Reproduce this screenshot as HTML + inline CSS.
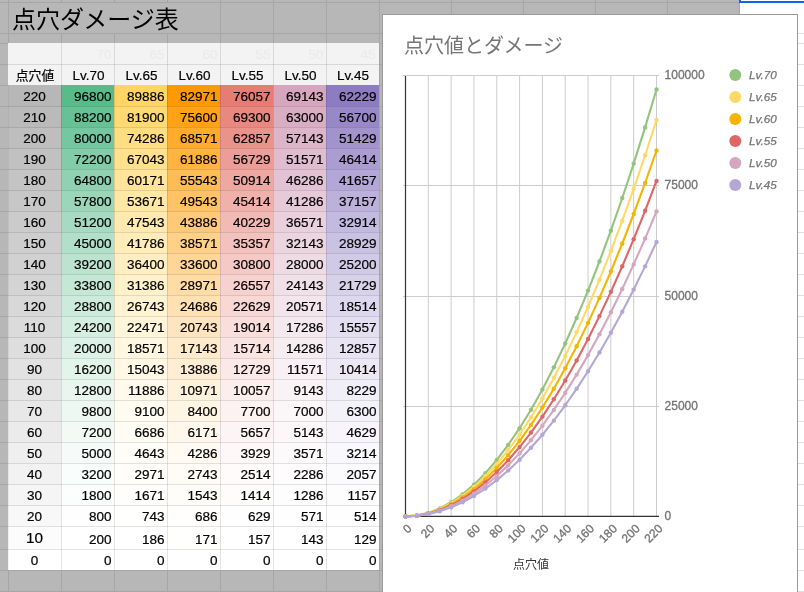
<!DOCTYPE html><html><head><meta charset="utf-8"><style>
*{margin:0;padding:0;box-sizing:border-box}
html,body{width:804px;height:592px;overflow:hidden;background:#fff}
body{will-change:transform}
body{position:relative;font-family:"Liberation Sans","Noto Sans CJK JP",Arial,sans-serif;}
.a{position:absolute}
.c{position:absolute;font-size:13.5px;color:#000;line-height:1;white-space:nowrap;-webkit-text-stroke:0.2px currentColor}
.hl{position:absolute;height:1px}
.vl{position:absolute;width:1px}
.c span{position:absolute;left:0;right:0;line-height:14px}
.n span{text-align:right;right:2.5px}
.m span{text-align:center}
.n2 span{right:3.5px}

</style></head><body>
<div class="a" style="left:0;top:0;width:739px;height:592px;background:#b7b7b7"></div>
<div class="hl" style="left:0;top:2px;width:739px;background:#a6a6a6"></div>
<div class="hl" style="left:740px;top:2px;width:64px;background:#e0e0e0"></div>
<div class="hl" style="left:0;top:33px;width:739px;background:#a6a6a6"></div>
<div class="hl" style="left:740px;top:33px;width:64px;background:#e0e0e0"></div>
<div class="hl" style="left:0;top:43px;width:739px;background:#a6a6a6"></div>
<div class="hl" style="left:740px;top:43px;width:64px;background:#e0e0e0"></div>
<div class="hl" style="left:0;top:64px;width:739px;background:#a6a6a6"></div>
<div class="hl" style="left:740px;top:64px;width:64px;background:#e0e0e0"></div>
<div class="hl" style="left:0;top:85px;width:739px;background:#a6a6a6"></div>
<div class="hl" style="left:740px;top:85px;width:64px;background:#e0e0e0"></div>
<div class="hl" style="left:0;top:106px;width:739px;background:#a6a6a6"></div>
<div class="hl" style="left:740px;top:106px;width:64px;background:#e0e0e0"></div>
<div class="hl" style="left:0;top:127px;width:739px;background:#a6a6a6"></div>
<div class="hl" style="left:740px;top:127px;width:64px;background:#e0e0e0"></div>
<div class="hl" style="left:0;top:148px;width:739px;background:#a6a6a6"></div>
<div class="hl" style="left:740px;top:148px;width:64px;background:#e0e0e0"></div>
<div class="hl" style="left:0;top:169px;width:739px;background:#a6a6a6"></div>
<div class="hl" style="left:740px;top:169px;width:64px;background:#e0e0e0"></div>
<div class="hl" style="left:0;top:190px;width:739px;background:#a6a6a6"></div>
<div class="hl" style="left:740px;top:190px;width:64px;background:#e0e0e0"></div>
<div class="hl" style="left:0;top:211px;width:739px;background:#a6a6a6"></div>
<div class="hl" style="left:740px;top:211px;width:64px;background:#e0e0e0"></div>
<div class="hl" style="left:0;top:232px;width:739px;background:#a6a6a6"></div>
<div class="hl" style="left:740px;top:232px;width:64px;background:#e0e0e0"></div>
<div class="hl" style="left:0;top:253px;width:739px;background:#a6a6a6"></div>
<div class="hl" style="left:740px;top:253px;width:64px;background:#e0e0e0"></div>
<div class="hl" style="left:0;top:274px;width:739px;background:#a6a6a6"></div>
<div class="hl" style="left:740px;top:274px;width:64px;background:#e0e0e0"></div>
<div class="hl" style="left:0;top:295px;width:739px;background:#a6a6a6"></div>
<div class="hl" style="left:740px;top:295px;width:64px;background:#e0e0e0"></div>
<div class="hl" style="left:0;top:316px;width:739px;background:#a6a6a6"></div>
<div class="hl" style="left:740px;top:316px;width:64px;background:#e0e0e0"></div>
<div class="hl" style="left:0;top:337px;width:739px;background:#a6a6a6"></div>
<div class="hl" style="left:740px;top:337px;width:64px;background:#e0e0e0"></div>
<div class="hl" style="left:0;top:358px;width:739px;background:#a6a6a6"></div>
<div class="hl" style="left:740px;top:358px;width:64px;background:#e0e0e0"></div>
<div class="hl" style="left:0;top:379px;width:739px;background:#a6a6a6"></div>
<div class="hl" style="left:740px;top:379px;width:64px;background:#e0e0e0"></div>
<div class="hl" style="left:0;top:400px;width:739px;background:#a6a6a6"></div>
<div class="hl" style="left:740px;top:400px;width:64px;background:#e0e0e0"></div>
<div class="hl" style="left:0;top:421px;width:739px;background:#a6a6a6"></div>
<div class="hl" style="left:740px;top:421px;width:64px;background:#e0e0e0"></div>
<div class="hl" style="left:0;top:442px;width:739px;background:#a6a6a6"></div>
<div class="hl" style="left:740px;top:442px;width:64px;background:#e0e0e0"></div>
<div class="hl" style="left:0;top:463px;width:739px;background:#a6a6a6"></div>
<div class="hl" style="left:740px;top:463px;width:64px;background:#e0e0e0"></div>
<div class="hl" style="left:0;top:484px;width:739px;background:#a6a6a6"></div>
<div class="hl" style="left:740px;top:484px;width:64px;background:#e0e0e0"></div>
<div class="hl" style="left:0;top:505px;width:739px;background:#a6a6a6"></div>
<div class="hl" style="left:740px;top:505px;width:64px;background:#e0e0e0"></div>
<div class="hl" style="left:0;top:526px;width:739px;background:#a6a6a6"></div>
<div class="hl" style="left:740px;top:526px;width:64px;background:#e0e0e0"></div>
<div class="hl" style="left:0;top:549px;width:739px;background:#a6a6a6"></div>
<div class="hl" style="left:740px;top:549px;width:64px;background:#e0e0e0"></div>
<div class="hl" style="left:0;top:570px;width:739px;background:#a6a6a6"></div>
<div class="hl" style="left:740px;top:570px;width:64px;background:#e0e0e0"></div>
<div class="hl" style="left:0;top:591px;width:739px;background:#a6a6a6"></div>
<div class="hl" style="left:740px;top:591px;width:64px;background:#e0e0e0"></div>
<div class="vl" style="left:8px;top:0;height:592px;background:#a6a6a6"></div>
<div class="vl" style="left:61px;top:0;height:592px;background:#a6a6a6"></div>
<div class="vl" style="left:114px;top:0;height:592px;background:#a6a6a6"></div>
<div class="vl" style="left:167px;top:0;height:592px;background:#a6a6a6"></div>
<div class="vl" style="left:220px;top:0;height:592px;background:#a6a6a6"></div>
<div class="vl" style="left:273px;top:0;height:592px;background:#a6a6a6"></div>
<div class="vl" style="left:326px;top:0;height:592px;background:#a6a6a6"></div>
<div class="vl" style="left:379px;top:0;height:592px;background:#a6a6a6"></div>
<div class="vl" style="left:451px;top:0;height:592px;background:#a6a6a6"></div>
<div class="vl" style="left:523px;top:0;height:592px;background:#a6a6a6"></div>
<div class="vl" style="left:595px;top:0;height:592px;background:#a6a6a6"></div>
<div class="vl" style="left:667px;top:0;height:592px;background:#a6a6a6"></div>
<div class="vl" style="left:739px;top:0;height:592px;background:#a6a6a6"></div>
<div class="a" style="left:9px;top:3px;width:170px;height:30px;background:#b7b7b7"></div>
<div class="a" style="left:12px;top:5px;height:30px;font-size:24px;line-height:30px;font-family:'Liberation Sans','Noto Sans CJK JP',sans-serif;color:#000;white-space:nowrap">点穴ダメージ表</div>
<div class="c n n2" style="left:8px;top:43px;width:54px;height:21px;background:#f3f3f3;color:#ebebeb;"><span style="bottom:2.0px;"></span></div>
<div class="c m" style="left:8px;top:64px;width:54px;height:21px;background:#f3f3f3;"><span style="bottom:2.4px;font-size:12.8px;">点穴値</span></div>
<div class="c n n2" style="left:62px;top:43px;width:53px;height:21px;background:#f3f3f3;color:#ebebeb;"><span style="bottom:2.0px;">70</span></div>
<div class="c m" style="left:62px;top:64px;width:53px;height:21px;background:#f3f3f3;"><span style="bottom:2.0px;">Lv.70</span></div>
<div class="c n n2" style="left:115px;top:43px;width:53px;height:21px;background:#f3f3f3;color:#ebebeb;"><span style="bottom:2.0px;">65</span></div>
<div class="c m" style="left:115px;top:64px;width:53px;height:21px;background:#f3f3f3;"><span style="bottom:2.0px;">Lv.65</span></div>
<div class="c n n2" style="left:168px;top:43px;width:53px;height:21px;background:#f3f3f3;color:#ebebeb;"><span style="bottom:2.0px;">60</span></div>
<div class="c m" style="left:168px;top:64px;width:53px;height:21px;background:#f3f3f3;"><span style="bottom:2.0px;">Lv.60</span></div>
<div class="c n n2" style="left:221px;top:43px;width:53px;height:21px;background:#f3f3f3;color:#ebebeb;"><span style="bottom:2.0px;">55</span></div>
<div class="c m" style="left:221px;top:64px;width:53px;height:21px;background:#f3f3f3;"><span style="bottom:2.0px;">Lv.55</span></div>
<div class="c n n2" style="left:274px;top:43px;width:53px;height:21px;background:#f3f3f3;color:#ebebeb;"><span style="bottom:2.0px;">50</span></div>
<div class="c m" style="left:274px;top:64px;width:53px;height:21px;background:#f3f3f3;"><span style="bottom:2.0px;">Lv.50</span></div>
<div class="c n n2" style="left:327px;top:43px;width:52px;height:21px;background:#f3f3f3;color:#ebebeb;"><span style="bottom:2.0px;">45</span></div>
<div class="c m" style="left:327px;top:64px;width:52px;height:21px;background:#f3f3f3;"><span style="bottom:2.0px;">Lv.45</span></div>
<div class="c m" style="left:8px;top:85px;width:53px;height:21px;background:#b7b7b7;"><span style="bottom:2.0px;">220</span></div>
<div class="c n" style="left:61px;top:85px;width:53px;height:21px;background:#57bb8a;"><span style="bottom:2.0px;">96800</span></div>
<div class="c n" style="left:114px;top:85px;width:53px;height:21px;background:#ffd666;"><span style="bottom:2.0px;">89886</span></div>
<div class="c n" style="left:167px;top:85px;width:53px;height:21px;background:#ff9900;"><span style="bottom:2.0px;">82971</span></div>
<div class="c n" style="left:220px;top:85px;width:53px;height:21px;background:#e67c73;"><span style="bottom:2.0px;">76057</span></div>
<div class="c n" style="left:273px;top:85px;width:53px;height:21px;background:#d5a6bd;"><span style="bottom:2.0px;">69143</span></div>
<div class="c n" style="left:326px;top:85px;width:53px;height:21px;background:#8e7cc3;"><span style="bottom:2.0px;">62229</span></div>
<div class="c m" style="left:8px;top:106px;width:53px;height:21px;background:#bababa;"><span style="bottom:2.0px;">210</span></div>
<div class="c n" style="left:61px;top:106px;width:53px;height:21px;background:#66c194;"><span style="bottom:2.0px;">88200</span></div>
<div class="c n" style="left:114px;top:106px;width:53px;height:21px;background:#ffda74;"><span style="bottom:2.0px;">81900</span></div>
<div class="c n" style="left:167px;top:106px;width:53px;height:21px;background:#ffa217;"><span style="bottom:2.0px;">75600</span></div>
<div class="c n" style="left:220px;top:106px;width:53px;height:21px;background:#e8887f;"><span style="bottom:2.0px;">69300</span></div>
<div class="c n" style="left:273px;top:106px;width:53px;height:21px;background:#d9aec3;"><span style="bottom:2.0px;">63000</span></div>
<div class="c n" style="left:326px;top:106px;width:53px;height:21px;background:#9888c8;"><span style="bottom:2.0px;">56700</span></div>
<div class="c m" style="left:8px;top:127px;width:53px;height:21px;background:#bebebe;"><span style="bottom:2.0px;">200</span></div>
<div class="c n" style="left:61px;top:127px;width:53px;height:21px;background:#74c79e;"><span style="bottom:2.0px;">80000</span></div>
<div class="c n" style="left:114px;top:127px;width:53px;height:21px;background:#ffdd81;"><span style="bottom:2.0px;">74286</span></div>
<div class="c n" style="left:167px;top:127px;width:53px;height:21px;background:#ffab2c;"><span style="bottom:2.0px;">68571</span></div>
<div class="c n" style="left:220px;top:127px;width:53px;height:21px;background:#ea938b;"><span style="bottom:2.0px;">62857</span></div>
<div class="c n" style="left:273px;top:127px;width:53px;height:21px;background:#dcb5c8;"><span style="bottom:2.0px;">57143</span></div>
<div class="c n" style="left:326px;top:127px;width:53px;height:21px;background:#a293cd;"><span style="bottom:2.0px;">51429</span></div>
<div class="c m" style="left:8px;top:148px;width:53px;height:21px;background:#c1c1c1;"><span style="bottom:2.0px;">190</span></div>
<div class="c n" style="left:61px;top:148px;width:53px;height:21px;background:#82cca8;"><span style="bottom:2.0px;">72200</span></div>
<div class="c n" style="left:114px;top:148px;width:53px;height:21px;background:#ffe08d;"><span style="bottom:2.0px;">67043</span></div>
<div class="c n" style="left:167px;top:148px;width:53px;height:21px;background:#ffb341;"><span style="bottom:2.0px;">61886</span></div>
<div class="c n" style="left:220px;top:148px;width:53px;height:21px;background:#ec9d97;"><span style="bottom:2.0px;">56729</span></div>
<div class="c n" style="left:273px;top:148px;width:53px;height:21px;background:#e0bdce;"><span style="bottom:2.0px;">51571</span></div>
<div class="c n" style="left:326px;top:148px;width:53px;height:21px;background:#ab9dd2;"><span style="bottom:2.0px;">46414</span></div>
<div class="c m" style="left:8px;top:169px;width:53px;height:21px;background:#c4c4c4;"><span style="bottom:2.0px;">180</span></div>
<div class="c n" style="left:61px;top:169px;width:53px;height:21px;background:#8fd1b1;"><span style="bottom:2.0px;">64800</span></div>
<div class="c n" style="left:114px;top:169px;width:53px;height:21px;background:#ffe499;"><span style="bottom:2.0px;">60171</span></div>
<div class="c n" style="left:167px;top:169px;width:53px;height:21px;background:#ffbb54;"><span style="bottom:2.0px;">55543</span></div>
<div class="c n" style="left:220px;top:169px;width:53px;height:21px;background:#eea7a1;"><span style="bottom:2.0px;">50914</span></div>
<div class="c n" style="left:273px;top:169px;width:53px;height:21px;background:#e3c3d3;"><span style="bottom:2.0px;">46286</span></div>
<div class="c n" style="left:326px;top:169px;width:53px;height:21px;background:#b3a7d7;"><span style="bottom:2.0px;">41657</span></div>
<div class="c m" style="left:8px;top:190px;width:53px;height:21px;background:#c7c7c7;"><span style="bottom:2.0px;">170</span></div>
<div class="c n" style="left:61px;top:190px;width:53px;height:21px;background:#9bd6b9;"><span style="bottom:2.0px;">57800</span></div>
<div class="c n" style="left:114px;top:190px;width:53px;height:21px;background:#ffe7a4;"><span style="bottom:2.0px;">53671</span></div>
<div class="c n" style="left:167px;top:190px;width:53px;height:21px;background:#ffc267;"><span style="bottom:2.0px;">49543</span></div>
<div class="c n" style="left:220px;top:190px;width:53px;height:21px;background:#f0b1ab;"><span style="bottom:2.0px;">45414</span></div>
<div class="c n" style="left:273px;top:190px;width:53px;height:21px;background:#e6cad8;"><span style="bottom:2.0px;">41286</span></div>
<div class="c n" style="left:326px;top:190px;width:53px;height:21px;background:#bcb1db;"><span style="bottom:2.0px;">37157</span></div>
<div class="c m" style="left:8px;top:211px;width:53px;height:21px;background:#cbcbcb;"><span style="bottom:2.0px;">160</span></div>
<div class="c n" style="left:61px;top:211px;width:53px;height:21px;background:#a6dbc1;"><span style="bottom:2.0px;">51200</span></div>
<div class="c n" style="left:114px;top:211px;width:53px;height:21px;background:#ffe9ae;"><span style="bottom:2.0px;">47543</span></div>
<div class="c n" style="left:167px;top:211px;width:53px;height:21px;background:#ffc978;"><span style="bottom:2.0px;">43886</span></div>
<div class="c n" style="left:220px;top:211px;width:53px;height:21px;background:#f2bab5;"><span style="bottom:2.0px;">40229</span></div>
<div class="c n" style="left:273px;top:211px;width:53px;height:21px;background:#e9d0dc;"><span style="bottom:2.0px;">36571</span></div>
<div class="c n" style="left:326px;top:211px;width:53px;height:21px;background:#c3badf;"><span style="bottom:2.0px;">32914</span></div>
<div class="c m" style="left:8px;top:232px;width:53px;height:21px;background:#cecece;"><span style="bottom:2.0px;">150</span></div>
<div class="c n" style="left:61px;top:232px;width:53px;height:21px;background:#b1dfc9;"><span style="bottom:2.0px;">45000</span></div>
<div class="c n" style="left:114px;top:232px;width:53px;height:21px;background:#ffecb8;"><span style="bottom:2.0px;">41786</span></div>
<div class="c n" style="left:167px;top:232px;width:53px;height:21px;background:#ffd088;"><span style="bottom:2.0px;">38571</span></div>
<div class="c n" style="left:220px;top:232px;width:53px;height:21px;background:#f3c2be;"><span style="bottom:2.0px;">35357</span></div>
<div class="c n" style="left:273px;top:232px;width:53px;height:21px;background:#ebd6e0;"><span style="bottom:2.0px;">32143</span></div>
<div class="c n" style="left:326px;top:232px;width:53px;height:21px;background:#cac2e3;"><span style="bottom:2.0px;">28929</span></div>
<div class="c m" style="left:8px;top:253px;width:53px;height:21px;background:#d1d1d1;"><span style="bottom:2.0px;">140</span></div>
<div class="c n" style="left:61px;top:253px;width:53px;height:21px;background:#bbe3d0;"><span style="bottom:2.0px;">39200</span></div>
<div class="c n" style="left:114px;top:253px;width:53px;height:21px;background:#ffeec1;"><span style="bottom:2.0px;">36400</span></div>
<div class="c n" style="left:167px;top:253px;width:53px;height:21px;background:#ffd698;"><span style="bottom:2.0px;">33600</span></div>
<div class="c n" style="left:220px;top:253px;width:53px;height:21px;background:#f5cac6;"><span style="bottom:2.0px;">30800</span></div>
<div class="c n" style="left:273px;top:253px;width:53px;height:21px;background:#eedbe4;"><span style="bottom:2.0px;">28000</span></div>
<div class="c n" style="left:326px;top:253px;width:53px;height:21px;background:#d1cae7;"><span style="bottom:2.0px;">25200</span></div>
<div class="c m" style="left:8px;top:274px;width:53px;height:21px;background:#d4d4d4;"><span style="bottom:2.0px;">130</span></div>
<div class="c n" style="left:61px;top:274px;width:53px;height:21px;background:#c4e7d6;"><span style="bottom:2.0px;">33800</span></div>
<div class="c n" style="left:114px;top:274px;width:53px;height:21px;background:#fff1ca;"><span style="bottom:2.0px;">31386</span></div>
<div class="c n" style="left:167px;top:274px;width:53px;height:21px;background:#ffdba6;"><span style="bottom:2.0px;">28971</span></div>
<div class="c n" style="left:220px;top:274px;width:53px;height:21px;background:#f6d1ce;"><span style="bottom:2.0px;">26557</span></div>
<div class="c n" style="left:273px;top:274px;width:53px;height:21px;background:#f0e0e8;"><span style="bottom:2.0px;">24143</span></div>
<div class="c n" style="left:326px;top:274px;width:53px;height:21px;background:#d8d1ea;"><span style="bottom:2.0px;">21729</span></div>
<div class="c m" style="left:8px;top:295px;width:53px;height:21px;background:#d8d8d8;"><span style="bottom:2.0px;">120</span></div>
<div class="c n" style="left:61px;top:295px;width:53px;height:21px;background:#cdebdc;"><span style="bottom:2.0px;">28800</span></div>
<div class="c n" style="left:114px;top:295px;width:53px;height:21px;background:#fff3d1;"><span style="bottom:2.0px;">26743</span></div>
<div class="c n" style="left:167px;top:295px;width:53px;height:21px;background:#ffe1b3;"><span style="bottom:2.0px;">24686</span></div>
<div class="c n" style="left:220px;top:295px;width:53px;height:21px;background:#f8d8d5;"><span style="bottom:2.0px;">22629</span></div>
<div class="c n" style="left:273px;top:295px;width:53px;height:21px;background:#f3e5eb;"><span style="bottom:2.0px;">20571</span></div>
<div class="c n" style="left:326px;top:295px;width:53px;height:21px;background:#ddd8ed;"><span style="bottom:2.0px;">18514</span></div>
<div class="c m" style="left:8px;top:316px;width:53px;height:21px;background:#dbdbdb;"><span style="bottom:2.0px;">110</span></div>
<div class="c n" style="left:61px;top:316px;width:53px;height:21px;background:#d5eee2;"><span style="bottom:2.0px;">24200</span></div>
<div class="c n" style="left:114px;top:316px;width:53px;height:21px;background:#fff5d9;"><span style="bottom:2.0px;">22471</span></div>
<div class="c n" style="left:167px;top:316px;width:53px;height:21px;background:#ffe5bf;"><span style="bottom:2.0px;">20743</span></div>
<div class="c n" style="left:220px;top:316px;width:53px;height:21px;background:#f9dedc;"><span style="bottom:2.0px;">19014</span></div>
<div class="c n" style="left:273px;top:316px;width:53px;height:21px;background:#f4e9ee;"><span style="bottom:2.0px;">17286</span></div>
<div class="c n" style="left:326px;top:316px;width:53px;height:21px;background:#e3def0;"><span style="bottom:2.0px;">15557</span></div>
<div class="c m" style="left:8px;top:337px;width:53px;height:21px;background:#dedede;"><span style="bottom:2.0px;">100</span></div>
<div class="c n" style="left:61px;top:337px;width:53px;height:21px;background:#dcf1e7;"><span style="bottom:2.0px;">20000</span></div>
<div class="c n" style="left:114px;top:337px;width:53px;height:21px;background:#fff7df;"><span style="bottom:2.0px;">18571</span></div>
<div class="c n" style="left:167px;top:337px;width:53px;height:21px;background:#ffeaca;"><span style="bottom:2.0px;">17143</span></div>
<div class="c n" style="left:220px;top:337px;width:53px;height:21px;background:#fae4e2;"><span style="bottom:2.0px;">15714</span></div>
<div class="c n" style="left:273px;top:337px;width:53px;height:21px;background:#f6edf1;"><span style="bottom:2.0px;">14286</span></div>
<div class="c n" style="left:326px;top:337px;width:53px;height:21px;background:#e8e4f3;"><span style="bottom:2.0px;">12857</span></div>
<div class="c m" style="left:8px;top:358px;width:53px;height:21px;background:#e2e2e2;"><span style="bottom:2.0px;">90</span></div>
<div class="c n" style="left:61px;top:358px;width:53px;height:21px;background:#e3f4eb;"><span style="bottom:2.0px;">16200</span></div>
<div class="c n" style="left:114px;top:358px;width:53px;height:21px;background:#fff8e5;"><span style="bottom:2.0px;">15043</span></div>
<div class="c n" style="left:167px;top:358px;width:53px;height:21px;background:#ffeed4;"><span style="bottom:2.0px;">13886</span></div>
<div class="c n" style="left:220px;top:358px;width:53px;height:21px;background:#fbe9e8;"><span style="bottom:2.0px;">12729</span></div>
<div class="c n" style="left:273px;top:358px;width:53px;height:21px;background:#f8f0f4;"><span style="bottom:2.0px;">11571</span></div>
<div class="c n" style="left:326px;top:358px;width:53px;height:21px;background:#ece9f5;"><span style="bottom:2.0px;">10414</span></div>
<div class="c m" style="left:8px;top:379px;width:53px;height:21px;background:#e5e5e5;"><span style="bottom:2.0px;">80</span></div>
<div class="c n" style="left:61px;top:379px;width:53px;height:21px;background:#e9f6f0;"><span style="bottom:2.0px;">12800</span></div>
<div class="c n" style="left:114px;top:379px;width:53px;height:21px;background:#fffaeb;"><span style="bottom:2.0px;">11886</span></div>
<div class="c n" style="left:167px;top:379px;width:53px;height:21px;background:#fff2dd;"><span style="bottom:2.0px;">10971</span></div>
<div class="c n" style="left:220px;top:379px;width:53px;height:21px;background:#fceeec;"><span style="bottom:2.0px;">10057</span></div>
<div class="c n" style="left:273px;top:379px;width:53px;height:21px;background:#f9f3f6;"><span style="bottom:2.0px;">9143</span></div>
<div class="c n" style="left:326px;top:379px;width:53px;height:21px;background:#f0eef7;"><span style="bottom:2.0px;">8229</span></div>
<div class="c m" style="left:8px;top:400px;width:53px;height:21px;background:#e8e8e8;"><span style="bottom:2.0px;">70</span></div>
<div class="c n" style="left:61px;top:400px;width:53px;height:21px;background:#eef8f3;"><span style="bottom:2.0px;">9800</span></div>
<div class="c n" style="left:114px;top:400px;width:53px;height:21px;background:#fffbf0;"><span style="bottom:2.0px;">9100</span></div>
<div class="c n" style="left:167px;top:400px;width:53px;height:21px;background:#fff5e5;"><span style="bottom:2.0px;">8400</span></div>
<div class="c n" style="left:220px;top:400px;width:53px;height:21px;background:#fcf2f1;"><span style="bottom:2.0px;">7700</span></div>
<div class="c n" style="left:273px;top:400px;width:53px;height:21px;background:#fbf6f8;"><span style="bottom:2.0px;">7000</span></div>
<div class="c n" style="left:326px;top:400px;width:53px;height:21px;background:#f4f2f9;"><span style="bottom:2.0px;">6300</span></div>
<div class="c m" style="left:8px;top:421px;width:53px;height:21px;background:#ebebeb;"><span style="bottom:2.0px;">60</span></div>
<div class="c n" style="left:61px;top:421px;width:53px;height:21px;background:#f3faf6;"><span style="bottom:2.0px;">7200</span></div>
<div class="c n" style="left:114px;top:421px;width:53px;height:21px;background:#fffcf4;"><span style="bottom:2.0px;">6686</span></div>
<div class="c n" style="left:167px;top:421px;width:53px;height:21px;background:#fff7ec;"><span style="bottom:2.0px;">6171</span></div>
<div class="c n" style="left:220px;top:421px;width:53px;height:21px;background:#fdf5f5;"><span style="bottom:2.0px;">5657</span></div>
<div class="c n" style="left:273px;top:421px;width:53px;height:21px;background:#fcf8fa;"><span style="bottom:2.0px;">5143</span></div>
<div class="c n" style="left:326px;top:421px;width:53px;height:21px;background:#f7f5fb;"><span style="bottom:2.0px;">4629</span></div>
<div class="c m" style="left:8px;top:442px;width:53px;height:21px;background:#efefef;"><span style="bottom:2.0px;">50</span></div>
<div class="c n" style="left:61px;top:442px;width:53px;height:21px;background:#f6fbf9;"><span style="bottom:2.0px;">5000</span></div>
<div class="c n" style="left:114px;top:442px;width:53px;height:21px;background:#fffdf7;"><span style="bottom:2.0px;">4643</span></div>
<div class="c n" style="left:167px;top:442px;width:53px;height:21px;background:#fffaf2;"><span style="bottom:2.0px;">4286</span></div>
<div class="c n" style="left:220px;top:442px;width:53px;height:21px;background:#fef8f8;"><span style="bottom:2.0px;">3929</span></div>
<div class="c n" style="left:273px;top:442px;width:53px;height:21px;background:#fdfafc;"><span style="bottom:2.0px;">3571</span></div>
<div class="c n" style="left:326px;top:442px;width:53px;height:21px;background:#f9f8fc;"><span style="bottom:2.0px;">3214</span></div>
<div class="c m" style="left:8px;top:463px;width:53px;height:21px;background:#f2f2f2;"><span style="bottom:2.0px;">40</span></div>
<div class="c n" style="left:61px;top:463px;width:53px;height:21px;background:#f9fdfb;"><span style="bottom:2.0px;">3200</span></div>
<div class="c n" style="left:114px;top:463px;width:53px;height:21px;background:#fffefa;"><span style="bottom:2.0px;">2971</span></div>
<div class="c n" style="left:167px;top:463px;width:53px;height:21px;background:#fffcf7;"><span style="bottom:2.0px;">2743</span></div>
<div class="c n" style="left:220px;top:463px;width:53px;height:21px;background:#fefbfa;"><span style="bottom:2.0px;">2514</span></div>
<div class="c n" style="left:273px;top:463px;width:53px;height:21px;background:#fefcfd;"><span style="bottom:2.0px;">2286</span></div>
<div class="c n" style="left:326px;top:463px;width:53px;height:21px;background:#fbfbfd;"><span style="bottom:2.0px;">2057</span></div>
<div class="c m" style="left:8px;top:484px;width:53px;height:21px;background:#f5f5f5;"><span style="bottom:2.0px;">30</span></div>
<div class="c n" style="left:61px;top:484px;width:53px;height:21px;background:#fcfefd;"><span style="bottom:2.0px;">1800</span></div>
<div class="c n" style="left:114px;top:484px;width:53px;height:21px;background:#fffefc;"><span style="bottom:2.0px;">1671</span></div>
<div class="c n" style="left:167px;top:484px;width:53px;height:21px;background:#fffdfa;"><span style="bottom:2.0px;">1543</span></div>
<div class="c n" style="left:220px;top:484px;width:53px;height:21px;background:#fffdfc;"><span style="bottom:2.0px;">1414</span></div>
<div class="c n" style="left:273px;top:484px;width:53px;height:21px;background:#fefdfe;"><span style="bottom:2.0px;">1286</span></div>
<div class="c n" style="left:326px;top:484px;width:53px;height:21px;background:#fdfdfe;"><span style="bottom:2.0px;">1157</span></div>
<div class="c m" style="left:8px;top:505px;width:53px;height:21px;background:#f8f8f8;"><span style="bottom:2.0px;">20</span></div>
<div class="c n" style="left:61px;top:505px;width:53px;height:21px;background:#fefefe;"><span style="bottom:2.0px;">800</span></div>
<div class="c n" style="left:114px;top:505px;width:53px;height:21px;background:#fffffe;"><span style="bottom:2.0px;">743</span></div>
<div class="c n" style="left:167px;top:505px;width:53px;height:21px;background:#fffefd;"><span style="bottom:2.0px;">686</span></div>
<div class="c n" style="left:220px;top:505px;width:53px;height:21px;background:#fffefe;"><span style="bottom:2.0px;">629</span></div>
<div class="c n" style="left:273px;top:505px;width:53px;height:21px;background:#fffefe;"><span style="bottom:2.0px;">571</span></div>
<div class="c n" style="left:326px;top:505px;width:53px;height:21px;background:#fefeff;"><span style="bottom:2.0px;">514</span></div>
<div class="c m" style="left:8px;top:526px;width:53px;height:23px;background:#fcfcfc;"><span style="bottom:3.6px;font-size:15.3px;">10</span></div>
<div class="c n" style="left:61px;top:526px;width:53px;height:23px;background:#ffffff;"><span style="bottom:2.0px;">200</span></div>
<div class="c n" style="left:114px;top:526px;width:53px;height:23px;background:#ffffff;"><span style="bottom:2.0px;">186</span></div>
<div class="c n" style="left:167px;top:526px;width:53px;height:23px;background:#fffffe;"><span style="bottom:2.0px;">171</span></div>
<div class="c n" style="left:220px;top:526px;width:53px;height:23px;background:#ffffff;"><span style="bottom:2.0px;">157</span></div>
<div class="c n" style="left:273px;top:526px;width:53px;height:23px;background:#ffffff;"><span style="bottom:2.0px;">143</span></div>
<div class="c n" style="left:326px;top:526px;width:53px;height:23px;background:#ffffff;"><span style="bottom:2.0px;">129</span></div>
<div class="c m" style="left:8px;top:549px;width:53px;height:21px;background:#ffffff;"><span style="bottom:2.0px;">0</span></div>
<div class="c n" style="left:61px;top:549px;width:53px;height:21px;background:#ffffff;"><span style="bottom:2.0px;">0</span></div>
<div class="c n" style="left:114px;top:549px;width:53px;height:21px;background:#ffffff;"><span style="bottom:2.0px;">0</span></div>
<div class="c n" style="left:167px;top:549px;width:53px;height:21px;background:#ffffff;"><span style="bottom:2.0px;">0</span></div>
<div class="c n" style="left:220px;top:549px;width:53px;height:21px;background:#ffffff;"><span style="bottom:2.0px;">0</span></div>
<div class="c n" style="left:273px;top:549px;width:53px;height:21px;background:#ffffff;"><span style="bottom:2.0px;">0</span></div>
<div class="c n" style="left:326px;top:549px;width:53px;height:21px;background:#ffffff;"><span style="bottom:2.0px;">0</span></div>
<div class="hl" style="left:8px;top:64px;width:371px;background:rgba(0,0,0,0.11)"></div>
<div class="hl" style="left:8px;top:106px;width:371px;background:rgba(0,0,0,0.11)"></div>
<div class="hl" style="left:8px;top:127px;width:371px;background:rgba(0,0,0,0.11)"></div>
<div class="hl" style="left:8px;top:148px;width:371px;background:rgba(0,0,0,0.11)"></div>
<div class="hl" style="left:8px;top:169px;width:371px;background:rgba(0,0,0,0.11)"></div>
<div class="hl" style="left:8px;top:190px;width:371px;background:rgba(0,0,0,0.11)"></div>
<div class="hl" style="left:8px;top:211px;width:371px;background:rgba(0,0,0,0.11)"></div>
<div class="hl" style="left:8px;top:232px;width:371px;background:rgba(0,0,0,0.11)"></div>
<div class="hl" style="left:8px;top:253px;width:371px;background:rgba(0,0,0,0.11)"></div>
<div class="hl" style="left:8px;top:274px;width:371px;background:rgba(0,0,0,0.11)"></div>
<div class="hl" style="left:8px;top:295px;width:371px;background:rgba(0,0,0,0.11)"></div>
<div class="hl" style="left:8px;top:316px;width:371px;background:rgba(0,0,0,0.11)"></div>
<div class="hl" style="left:8px;top:337px;width:371px;background:rgba(0,0,0,0.11)"></div>
<div class="hl" style="left:8px;top:358px;width:371px;background:rgba(0,0,0,0.11)"></div>
<div class="hl" style="left:8px;top:379px;width:371px;background:rgba(0,0,0,0.11)"></div>
<div class="hl" style="left:8px;top:400px;width:371px;background:rgba(0,0,0,0.11)"></div>
<div class="hl" style="left:8px;top:421px;width:371px;background:rgba(0,0,0,0.11)"></div>
<div class="hl" style="left:8px;top:442px;width:371px;background:rgba(0,0,0,0.11)"></div>
<div class="hl" style="left:8px;top:463px;width:371px;background:rgba(0,0,0,0.11)"></div>
<div class="hl" style="left:8px;top:484px;width:371px;background:rgba(0,0,0,0.11)"></div>
<div class="hl" style="left:8px;top:505px;width:371px;background:rgba(0,0,0,0.11)"></div>
<div class="hl" style="left:8px;top:526px;width:371px;background:rgba(0,0,0,0.11)"></div>
<div class="hl" style="left:8px;top:549px;width:371px;background:rgba(0,0,0,0.11)"></div>
<div class="vl" style="left:8px;top:85px;height:485px;background:rgba(0,0,0,0.05)"></div>
<div class="vl" style="left:61px;top:43px;height:527px;background:rgba(0,0,0,0.11)"></div>
<div class="vl" style="left:114px;top:43px;height:527px;background:rgba(0,0,0,0.11)"></div>
<div class="vl" style="left:167px;top:43px;height:527px;background:rgba(0,0,0,0.11)"></div>
<div class="vl" style="left:220px;top:43px;height:527px;background:rgba(0,0,0,0.11)"></div>
<div class="vl" style="left:273px;top:43px;height:527px;background:rgba(0,0,0,0.11)"></div>
<div class="vl" style="left:326px;top:43px;height:527px;background:rgba(0,0,0,0.11)"></div>
<div class="a" style="left:382px;top:14px;width:416px;height:600px;background:#fff;border:1px solid #9a9a9a"></div>
<svg class="a" style="left:0;top:0" width="804" height="592" viewBox="0 0 804 592"><text x="404" y="52.5" font-family="Liberation Sans,Noto Sans CJK JP,sans-serif" font-size="20" fill="#757575">点穴値とダメージ</text><line x1="428.32" y1="75.40" x2="428.32" y2="516.40" stroke="#cccccc" stroke-width="1"/><line x1="451.14" y1="75.40" x2="451.14" y2="516.40" stroke="#cccccc" stroke-width="1"/><line x1="473.95" y1="75.40" x2="473.95" y2="516.40" stroke="#cccccc" stroke-width="1"/><line x1="496.77" y1="75.40" x2="496.77" y2="516.40" stroke="#cccccc" stroke-width="1"/><line x1="519.59" y1="75.40" x2="519.59" y2="516.40" stroke="#cccccc" stroke-width="1"/><line x1="542.41" y1="75.40" x2="542.41" y2="516.40" stroke="#cccccc" stroke-width="1"/><line x1="565.23" y1="75.40" x2="565.23" y2="516.40" stroke="#cccccc" stroke-width="1"/><line x1="588.05" y1="75.40" x2="588.05" y2="516.40" stroke="#cccccc" stroke-width="1"/><line x1="610.86" y1="75.40" x2="610.86" y2="516.40" stroke="#cccccc" stroke-width="1"/><line x1="633.68" y1="75.40" x2="633.68" y2="516.40" stroke="#cccccc" stroke-width="1"/><line x1="656.50" y1="75.40" x2="656.50" y2="516.40" stroke="#cccccc" stroke-width="1"/><line x1="403.00" y1="406.50" x2="659.00" y2="406.50" stroke="#cccccc" stroke-width="1"/><line x1="403.00" y1="296.50" x2="659.00" y2="296.50" stroke="#cccccc" stroke-width="1"/><line x1="403.00" y1="185.50" x2="659.00" y2="185.50" stroke="#cccccc" stroke-width="1"/><line x1="403.00" y1="75.50" x2="659.00" y2="75.50" stroke="#cccccc" stroke-width="1"/><line x1="405.50" y1="76.00" x2="405.50" y2="516.50" stroke="#333333" stroke-width="1.2"/><line x1="403.00" y1="516.40" x2="659.00" y2="516.40" stroke="#333333" stroke-width="1.2"/><text x="664.6" y="515.50" font-family="Liberation Sans,sans-serif" font-size="12" fill="#737373" stroke="#737373" stroke-width="0.3" dominant-baseline="central">0</text><text x="664.6" y="405.50" font-family="Liberation Sans,sans-serif" font-size="12" fill="#737373" stroke="#737373" stroke-width="0.3" dominant-baseline="central">25000</text><text x="664.6" y="295.50" font-family="Liberation Sans,sans-serif" font-size="12" fill="#737373" stroke="#737373" stroke-width="0.3" dominant-baseline="central">50000</text><text x="664.6" y="184.50" font-family="Liberation Sans,sans-serif" font-size="12" fill="#737373" stroke="#737373" stroke-width="0.3" dominant-baseline="central">75000</text><text x="664.6" y="74.50" font-family="Liberation Sans,sans-serif" font-size="12" fill="#737373" stroke="#737373" stroke-width="0.3" dominant-baseline="central">100000</text><text x="412.50" y="529.30" font-family="Liberation Sans,sans-serif" font-size="12" fill="#737373" stroke="#737373" stroke-width="0.3" text-anchor="end" transform="rotate(-45 412.50 529.30)">0</text><text x="435.32" y="529.30" font-family="Liberation Sans,sans-serif" font-size="12" fill="#737373" stroke="#737373" stroke-width="0.3" text-anchor="end" transform="rotate(-45 435.32 529.30)">20</text><text x="458.14" y="529.30" font-family="Liberation Sans,sans-serif" font-size="12" fill="#737373" stroke="#737373" stroke-width="0.3" text-anchor="end" transform="rotate(-45 458.14 529.30)">40</text><text x="480.95" y="529.30" font-family="Liberation Sans,sans-serif" font-size="12" fill="#737373" stroke="#737373" stroke-width="0.3" text-anchor="end" transform="rotate(-45 480.95 529.30)">60</text><text x="503.77" y="529.30" font-family="Liberation Sans,sans-serif" font-size="12" fill="#737373" stroke="#737373" stroke-width="0.3" text-anchor="end" transform="rotate(-45 503.77 529.30)">80</text><text x="526.59" y="529.30" font-family="Liberation Sans,sans-serif" font-size="12" fill="#737373" stroke="#737373" stroke-width="0.3" text-anchor="end" transform="rotate(-45 526.59 529.30)">100</text><text x="549.41" y="529.30" font-family="Liberation Sans,sans-serif" font-size="12" fill="#737373" stroke="#737373" stroke-width="0.3" text-anchor="end" transform="rotate(-45 549.41 529.30)">120</text><text x="572.23" y="529.30" font-family="Liberation Sans,sans-serif" font-size="12" fill="#737373" stroke="#737373" stroke-width="0.3" text-anchor="end" transform="rotate(-45 572.23 529.30)">140</text><text x="595.05" y="529.30" font-family="Liberation Sans,sans-serif" font-size="12" fill="#737373" stroke="#737373" stroke-width="0.3" text-anchor="end" transform="rotate(-45 595.05 529.30)">160</text><text x="617.86" y="529.30" font-family="Liberation Sans,sans-serif" font-size="12" fill="#737373" stroke="#737373" stroke-width="0.3" text-anchor="end" transform="rotate(-45 617.86 529.30)">180</text><text x="640.68" y="529.30" font-family="Liberation Sans,sans-serif" font-size="12" fill="#737373" stroke="#737373" stroke-width="0.3" text-anchor="end" transform="rotate(-45 640.68 529.30)">200</text><text x="663.50" y="529.30" font-family="Liberation Sans,sans-serif" font-size="12" fill="#737373" stroke="#737373" stroke-width="0.3" text-anchor="end" transform="rotate(-45 663.50 529.30)">220</text><text x="531" y="569" font-family="Liberation Sans,Noto Sans CJK JP,sans-serif" font-size="12" fill="#333333" text-anchor="middle">点穴値</text><polyline fill="none" stroke="#93c47d" stroke-width="2.1" stroke-linejoin="round" points="405.50,516.40 416.91,515.52 428.32,512.87 439.73,508.46 451.14,502.29 462.55,494.35 473.95,484.65 485.36,473.18 496.77,459.95 508.18,444.96 519.59,428.20 531.00,409.68 542.41,389.39 553.82,367.34 565.23,343.53 576.64,317.95 588.05,290.61 599.45,261.50 610.86,230.63 622.27,198.00 633.68,163.60 645.09,127.44 656.50,89.51"/><circle cx="405.50" cy="516.40" r="2.2" fill="#93c47d"/><circle cx="416.91" cy="515.52" r="2.2" fill="#93c47d"/><circle cx="428.32" cy="512.87" r="2.2" fill="#93c47d"/><circle cx="439.73" cy="508.46" r="2.2" fill="#93c47d"/><circle cx="451.14" cy="502.29" r="2.2" fill="#93c47d"/><circle cx="462.55" cy="494.35" r="2.2" fill="#93c47d"/><circle cx="473.95" cy="484.65" r="2.2" fill="#93c47d"/><circle cx="485.36" cy="473.18" r="2.2" fill="#93c47d"/><circle cx="496.77" cy="459.95" r="2.2" fill="#93c47d"/><circle cx="508.18" cy="444.96" r="2.2" fill="#93c47d"/><circle cx="519.59" cy="428.20" r="2.2" fill="#93c47d"/><circle cx="531.00" cy="409.68" r="2.2" fill="#93c47d"/><circle cx="542.41" cy="389.39" r="2.2" fill="#93c47d"/><circle cx="553.82" cy="367.34" r="2.2" fill="#93c47d"/><circle cx="565.23" cy="343.53" r="2.2" fill="#93c47d"/><circle cx="576.64" cy="317.95" r="2.2" fill="#93c47d"/><circle cx="588.05" cy="290.61" r="2.2" fill="#93c47d"/><circle cx="599.45" cy="261.50" r="2.2" fill="#93c47d"/><circle cx="610.86" cy="230.63" r="2.2" fill="#93c47d"/><circle cx="622.27" cy="198.00" r="2.2" fill="#93c47d"/><circle cx="633.68" cy="163.60" r="2.2" fill="#93c47d"/><circle cx="645.09" cy="127.44" r="2.2" fill="#93c47d"/><circle cx="656.50" cy="89.51" r="2.2" fill="#93c47d"/><polyline fill="none" stroke="#ffd966" stroke-width="2.1" stroke-linejoin="round" points="405.50,516.40 416.91,515.58 428.32,513.12 439.73,509.03 451.14,503.30 462.55,495.92 473.95,486.92 485.36,476.27 496.77,463.98 508.18,450.06 519.59,434.50 531.00,417.30 542.41,398.46 553.82,377.99 565.23,355.88 576.64,332.12 588.05,306.74 599.45,279.71 610.86,251.04 622.27,220.74 633.68,188.80 645.09,155.22 656.50,120.00"/><circle cx="405.50" cy="516.40" r="2.2" fill="#ffd966"/><circle cx="416.91" cy="515.58" r="2.2" fill="#ffd966"/><circle cx="428.32" cy="513.12" r="2.2" fill="#ffd966"/><circle cx="439.73" cy="509.03" r="2.2" fill="#ffd966"/><circle cx="451.14" cy="503.30" r="2.2" fill="#ffd966"/><circle cx="462.55" cy="495.92" r="2.2" fill="#ffd966"/><circle cx="473.95" cy="486.92" r="2.2" fill="#ffd966"/><circle cx="485.36" cy="476.27" r="2.2" fill="#ffd966"/><circle cx="496.77" cy="463.98" r="2.2" fill="#ffd966"/><circle cx="508.18" cy="450.06" r="2.2" fill="#ffd966"/><circle cx="519.59" cy="434.50" r="2.2" fill="#ffd966"/><circle cx="531.00" cy="417.30" r="2.2" fill="#ffd966"/><circle cx="542.41" cy="398.46" r="2.2" fill="#ffd966"/><circle cx="553.82" cy="377.99" r="2.2" fill="#ffd966"/><circle cx="565.23" cy="355.88" r="2.2" fill="#ffd966"/><circle cx="576.64" cy="332.12" r="2.2" fill="#ffd966"/><circle cx="588.05" cy="306.74" r="2.2" fill="#ffd966"/><circle cx="599.45" cy="279.71" r="2.2" fill="#ffd966"/><circle cx="610.86" cy="251.04" r="2.2" fill="#ffd966"/><circle cx="622.27" cy="220.74" r="2.2" fill="#ffd966"/><circle cx="633.68" cy="188.80" r="2.2" fill="#ffd966"/><circle cx="645.09" cy="155.22" r="2.2" fill="#ffd966"/><circle cx="656.50" cy="120.00" r="2.2" fill="#ffd966"/><polyline fill="none" stroke="#f4b400" stroke-width="2.1" stroke-linejoin="round" points="405.50,516.40 416.91,515.64 428.32,513.38 439.73,509.60 451.14,504.30 462.55,497.50 473.95,489.18 485.36,479.36 496.77,468.02 508.18,455.16 519.59,440.80 531.00,424.92 542.41,407.54 553.82,388.64 565.23,368.22 576.64,346.30 588.05,322.86 599.45,297.92 610.86,271.46 622.27,243.48 633.68,214.00 645.09,183.00 656.50,150.50"/><circle cx="405.50" cy="516.40" r="2.2" fill="#f4b400"/><circle cx="416.91" cy="515.64" r="2.2" fill="#f4b400"/><circle cx="428.32" cy="513.38" r="2.2" fill="#f4b400"/><circle cx="439.73" cy="509.60" r="2.2" fill="#f4b400"/><circle cx="451.14" cy="504.30" r="2.2" fill="#f4b400"/><circle cx="462.55" cy="497.50" r="2.2" fill="#f4b400"/><circle cx="473.95" cy="489.18" r="2.2" fill="#f4b400"/><circle cx="485.36" cy="479.36" r="2.2" fill="#f4b400"/><circle cx="496.77" cy="468.02" r="2.2" fill="#f4b400"/><circle cx="508.18" cy="455.16" r="2.2" fill="#f4b400"/><circle cx="519.59" cy="440.80" r="2.2" fill="#f4b400"/><circle cx="531.00" cy="424.92" r="2.2" fill="#f4b400"/><circle cx="542.41" cy="407.54" r="2.2" fill="#f4b400"/><circle cx="553.82" cy="388.64" r="2.2" fill="#f4b400"/><circle cx="565.23" cy="368.22" r="2.2" fill="#f4b400"/><circle cx="576.64" cy="346.30" r="2.2" fill="#f4b400"/><circle cx="588.05" cy="322.86" r="2.2" fill="#f4b400"/><circle cx="599.45" cy="297.92" r="2.2" fill="#f4b400"/><circle cx="610.86" cy="271.46" r="2.2" fill="#f4b400"/><circle cx="622.27" cy="243.48" r="2.2" fill="#f4b400"/><circle cx="633.68" cy="214.00" r="2.2" fill="#f4b400"/><circle cx="645.09" cy="183.00" r="2.2" fill="#f4b400"/><circle cx="656.50" cy="150.50" r="2.2" fill="#f4b400"/><polyline fill="none" stroke="#e06666" stroke-width="2.1" stroke-linejoin="round" points="405.50,516.40 416.91,515.71 428.32,513.63 439.73,510.16 451.14,505.31 462.55,499.07 473.95,491.45 485.36,482.44 496.77,472.05 508.18,460.27 519.59,447.10 531.00,432.55 542.41,416.61 553.82,399.28 565.23,380.57 576.64,360.47 588.05,338.99 599.45,316.12 610.86,291.87 622.27,266.23 633.68,239.20 645.09,210.79 656.50,180.99"/><circle cx="405.50" cy="516.40" r="2.2" fill="#e06666"/><circle cx="416.91" cy="515.71" r="2.2" fill="#e06666"/><circle cx="428.32" cy="513.63" r="2.2" fill="#e06666"/><circle cx="439.73" cy="510.16" r="2.2" fill="#e06666"/><circle cx="451.14" cy="505.31" r="2.2" fill="#e06666"/><circle cx="462.55" cy="499.07" r="2.2" fill="#e06666"/><circle cx="473.95" cy="491.45" r="2.2" fill="#e06666"/><circle cx="485.36" cy="482.44" r="2.2" fill="#e06666"/><circle cx="496.77" cy="472.05" r="2.2" fill="#e06666"/><circle cx="508.18" cy="460.27" r="2.2" fill="#e06666"/><circle cx="519.59" cy="447.10" r="2.2" fill="#e06666"/><circle cx="531.00" cy="432.55" r="2.2" fill="#e06666"/><circle cx="542.41" cy="416.61" r="2.2" fill="#e06666"/><circle cx="553.82" cy="399.28" r="2.2" fill="#e06666"/><circle cx="565.23" cy="380.57" r="2.2" fill="#e06666"/><circle cx="576.64" cy="360.47" r="2.2" fill="#e06666"/><circle cx="588.05" cy="338.99" r="2.2" fill="#e06666"/><circle cx="599.45" cy="316.12" r="2.2" fill="#e06666"/><circle cx="610.86" cy="291.87" r="2.2" fill="#e06666"/><circle cx="622.27" cy="266.23" r="2.2" fill="#e06666"/><circle cx="633.68" cy="239.20" r="2.2" fill="#e06666"/><circle cx="645.09" cy="210.79" r="2.2" fill="#e06666"/><circle cx="656.50" cy="180.99" r="2.2" fill="#e06666"/><polyline fill="none" stroke="#d5a6bd" stroke-width="2.1" stroke-linejoin="round" points="405.50,516.40 416.91,515.77 428.32,513.88 439.73,510.73 451.14,506.32 462.55,500.65 473.95,493.72 485.36,485.53 496.77,476.08 508.18,465.37 519.59,453.40 531.00,440.17 542.41,425.68 553.82,409.93 565.23,392.92 576.64,374.65 588.05,355.12 599.45,334.33 610.86,312.28 622.27,288.97 633.68,264.40 645.09,238.57 656.50,211.48"/><circle cx="405.50" cy="516.40" r="2.2" fill="#d5a6bd"/><circle cx="416.91" cy="515.77" r="2.2" fill="#d5a6bd"/><circle cx="428.32" cy="513.88" r="2.2" fill="#d5a6bd"/><circle cx="439.73" cy="510.73" r="2.2" fill="#d5a6bd"/><circle cx="451.14" cy="506.32" r="2.2" fill="#d5a6bd"/><circle cx="462.55" cy="500.65" r="2.2" fill="#d5a6bd"/><circle cx="473.95" cy="493.72" r="2.2" fill="#d5a6bd"/><circle cx="485.36" cy="485.53" r="2.2" fill="#d5a6bd"/><circle cx="496.77" cy="476.08" r="2.2" fill="#d5a6bd"/><circle cx="508.18" cy="465.37" r="2.2" fill="#d5a6bd"/><circle cx="519.59" cy="453.40" r="2.2" fill="#d5a6bd"/><circle cx="531.00" cy="440.17" r="2.2" fill="#d5a6bd"/><circle cx="542.41" cy="425.68" r="2.2" fill="#d5a6bd"/><circle cx="553.82" cy="409.93" r="2.2" fill="#d5a6bd"/><circle cx="565.23" cy="392.92" r="2.2" fill="#d5a6bd"/><circle cx="576.64" cy="374.65" r="2.2" fill="#d5a6bd"/><circle cx="588.05" cy="355.12" r="2.2" fill="#d5a6bd"/><circle cx="599.45" cy="334.33" r="2.2" fill="#d5a6bd"/><circle cx="610.86" cy="312.28" r="2.2" fill="#d5a6bd"/><circle cx="622.27" cy="288.97" r="2.2" fill="#d5a6bd"/><circle cx="633.68" cy="264.40" r="2.2" fill="#d5a6bd"/><circle cx="645.09" cy="238.57" r="2.2" fill="#d5a6bd"/><circle cx="656.50" cy="211.48" r="2.2" fill="#d5a6bd"/><polyline fill="none" stroke="#b4a7d6" stroke-width="2.1" stroke-linejoin="round" points="405.50,516.40 416.91,515.83 428.32,514.13 439.73,511.30 451.14,507.33 462.55,502.22 473.95,495.99 485.36,488.62 496.77,480.11 508.18,470.47 519.59,459.70 531.00,447.79 542.41,434.75 553.82,420.58 565.23,405.27 576.64,388.82 588.05,371.25 599.45,352.54 610.86,332.69 622.27,311.71 633.68,289.60 645.09,266.35 656.50,241.97"/><circle cx="405.50" cy="516.40" r="2.2" fill="#b4a7d6"/><circle cx="416.91" cy="515.83" r="2.2" fill="#b4a7d6"/><circle cx="428.32" cy="514.13" r="2.2" fill="#b4a7d6"/><circle cx="439.73" cy="511.30" r="2.2" fill="#b4a7d6"/><circle cx="451.14" cy="507.33" r="2.2" fill="#b4a7d6"/><circle cx="462.55" cy="502.22" r="2.2" fill="#b4a7d6"/><circle cx="473.95" cy="495.99" r="2.2" fill="#b4a7d6"/><circle cx="485.36" cy="488.62" r="2.2" fill="#b4a7d6"/><circle cx="496.77" cy="480.11" r="2.2" fill="#b4a7d6"/><circle cx="508.18" cy="470.47" r="2.2" fill="#b4a7d6"/><circle cx="519.59" cy="459.70" r="2.2" fill="#b4a7d6"/><circle cx="531.00" cy="447.79" r="2.2" fill="#b4a7d6"/><circle cx="542.41" cy="434.75" r="2.2" fill="#b4a7d6"/><circle cx="553.82" cy="420.58" r="2.2" fill="#b4a7d6"/><circle cx="565.23" cy="405.27" r="2.2" fill="#b4a7d6"/><circle cx="576.64" cy="388.82" r="2.2" fill="#b4a7d6"/><circle cx="588.05" cy="371.25" r="2.2" fill="#b4a7d6"/><circle cx="599.45" cy="352.54" r="2.2" fill="#b4a7d6"/><circle cx="610.86" cy="332.69" r="2.2" fill="#b4a7d6"/><circle cx="622.27" cy="311.71" r="2.2" fill="#b4a7d6"/><circle cx="633.68" cy="289.60" r="2.2" fill="#b4a7d6"/><circle cx="645.09" cy="266.35" r="2.2" fill="#b4a7d6"/><circle cx="656.50" cy="241.97" r="2.2" fill="#b4a7d6"/><circle cx="735.3" cy="75.00" r="6" fill="#93c47d"/><text x="749" y="74.30" font-family="Liberation Sans,sans-serif" font-size="11.7" font-style="italic" fill="#737373" stroke="#737373" stroke-width="0.25" dominant-baseline="central">Lv.70</text><circle cx="735.3" cy="97.00" r="6" fill="#ffd966"/><text x="749" y="96.30" font-family="Liberation Sans,sans-serif" font-size="11.7" font-style="italic" fill="#737373" stroke="#737373" stroke-width="0.25" dominant-baseline="central">Lv.65</text><circle cx="735.3" cy="119.00" r="6" fill="#f4b400"/><text x="749" y="118.30" font-family="Liberation Sans,sans-serif" font-size="11.7" font-style="italic" fill="#737373" stroke="#737373" stroke-width="0.25" dominant-baseline="central">Lv.60</text><circle cx="735.3" cy="141.00" r="6" fill="#e06666"/><text x="749" y="140.30" font-family="Liberation Sans,sans-serif" font-size="11.7" font-style="italic" fill="#737373" stroke="#737373" stroke-width="0.25" dominant-baseline="central">Lv.55</text><circle cx="735.3" cy="163.00" r="6" fill="#d5a6bd"/><text x="749" y="162.30" font-family="Liberation Sans,sans-serif" font-size="11.7" font-style="italic" fill="#737373" stroke="#737373" stroke-width="0.25" dominant-baseline="central">Lv.50</text><circle cx="735.3" cy="185.00" r="6" fill="#b4a7d6"/><text x="749" y="184.30" font-family="Liberation Sans,sans-serif" font-size="11.7" font-style="italic" fill="#737373" stroke="#737373" stroke-width="0.25" dominant-baseline="central">Lv.45</text></svg>
<div class="a" style="left:739px;top:0;width:2px;height:3px;background:#0e65e5"></div>
<div class="a" style="left:739px;top:1px;width:65px;height:2px;background:#0e65e5"></div>
</body></html>
